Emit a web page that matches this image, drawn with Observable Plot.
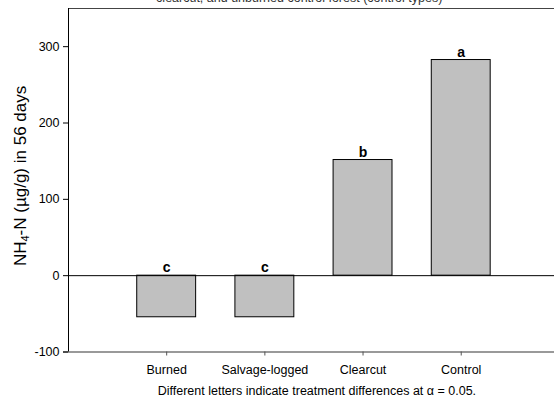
<!DOCTYPE html>
<html>
<head>
<meta charset="utf-8">
<script src="https://cdn.jsdelivr.net/npm/d3@7"></script>
<script src="https://cdn.jsdelivr.net/npm/@observablehq/plot@0.6"></script>
<style>
  html, body { margin: 0; padding: 0; background: white; overflow: hidden; }
  #chart svg { display: block; }
</style>
</head>
<body>
<div id="chart"></div>
<script>
const categories = ["Burned", "Salvage-logged", "Clearcut", "Control"];
const values = [-54.5, -54.5, 151.5, 282.5];
const letters = ["c", "c", "b", "a"];
const yTicks = [-100, 0, 100, 200, 300];
const titleText = "clearcut, and unburned control forest (control types)";
const captionText = "Different letters indicate treatment differences at \u03b1 = 0.05.";

const data = categories.map((c, i) => ({cat: c, pos: i + 1, value: values[i], letter: letters[i]}));
const font = "'Liberation Sans', Arial, sans-serif";

const yLabel = (index, scales, vals, dims) => {
  const t = d3.create("svg:text")
    .attr("transform", `translate(22,${scales.y(130)}) rotate(-90)`)
    .attr("text-anchor", "middle")
    .attr("dominant-baseline", "middle")
    .attr("font-size", 17)
    .attr("font-family", font)
    .attr("fill", "black");
  t.append("tspan").text("NH");
  t.append("tspan").attr("font-size", 11).attr("dy", 4).text("4");
  t.append("tspan").attr("dy", -4).text("-N (\u00b5g/g) in 56 days");
  return t.node();
};

const chart = Plot.plot({
  width: 554,
  height: 396,
  marginLeft: 68,
  marginRight: 0,
  marginTop: 8,
  marginBottom: 44.5,
  style: {fontFamily: font, fontSize: "12.5px", color: "black", background: "white"},
  x: {type: "linear", domain: [0, 4.95]},
  y: {domain: [-100, 350]},
  marks: [
    Plot.rectY(data, {x1: d => d.pos - 0.3, x2: d => d.pos + 0.3, y1: 0, y2: "value", fill: "#c0c0c0", stroke: "black", strokeWidth: 1}),
    Plot.ruleY([0], {stroke: "black", strokeWidth: 1}),
    Plot.ruleY([350], {stroke: "#444", strokeWidth: 1.2}),
    Plot.ruleY([-100], {stroke: "#777", strokeWidth: 1.5, insetLeft: -5}),
    Plot.ruleX([0], {y1: -100, y2: 350, stroke: "black", strokeWidth: 1}),
    Plot.axisY({ticks: yTicks, tickFormat: d => String(d), tickSize: 5, tickPadding: 4, fontSize: 12.5, label: null, stroke: "black"}),
    Plot.axisX({ticks: [1, 2, 3, 4], tickFormat: d => categories[d - 1], tickSize: 4, tickPadding: 9, fontSize: 12.5, label: null, stroke: "#555"}),
    Plot.text(data, {x: "pos", y: d => Math.max(d.value, 0), text: "letter", lineAnchor: "bottom", dy: -3.5, fontWeight: "bold", fontSize: 14, fill: "black"}),
    Plot.text([titleText], {x: 2.35, frameAnchor: "top", lineAnchor: "bottom", dy: -6.5, fontSize: 12.5, fill: "#333", text: d => d}),
    Plot.text([captionText], {x: 2.53, frameAnchor: "bottom", lineAnchor: "middle", dy: 38.5, fontSize: 12.5, fill: "black", text: d => d}),
    yLabel
  ]
});
document.getElementById("chart").appendChild(chart);
</script>
</body>
</html>
